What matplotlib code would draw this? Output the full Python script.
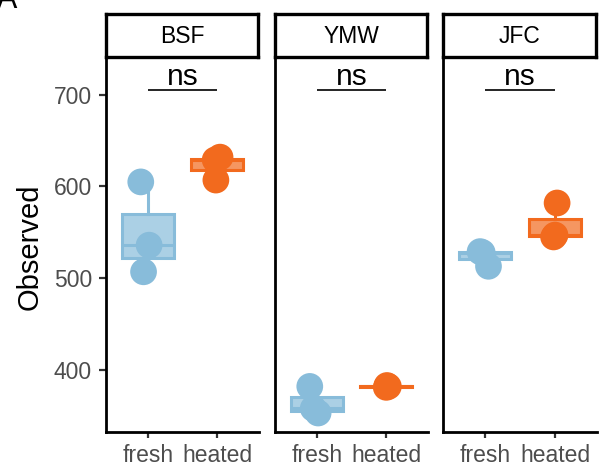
import matplotlib
matplotlib.use("Agg")
import matplotlib.pyplot as plt
from matplotlib.colors import to_rgba

plt.rcParams['font.family'] = ['Liberation Sans', 'DejaVu Sans']

# Observed richness per site and treatment
sites = ["BSF", "YMW", "JFC"]
conditions = ["fresh", "heated"]

bsf_fresh = [605, 536, 507]
bsf_heated = [632, 629, 607]
ymw_fresh = [382, 353, 358]
ymw_heated = [382, 381, 383]
jfc_fresh = [529, 513, 528]
jfc_heated = [582, 545, 547]

# horizontal jitter applied to the points
bsf_fresh_jit = [-0.10, 0.02, -0.06]
bsf_heated_jit = [0.04, -0.03, -0.02]
ymw_fresh_jit = [-0.10, 0.02, -0.05]
ymw_heated_jit = [0.03, 0.00, 0.01]
jfc_fresh_jit = [-0.07, 0.05, -0.04]
jfc_heated_jit = [0.03, -0.02, 0.00]

p_labels = ["ns", "ns", "ns"]

y_ticks = [400, 500, 600, 700]

site_values = {
    "BSF": (bsf_fresh, bsf_heated),
    "YMW": (ymw_fresh, ymw_heated),
    "JFC": (jfc_fresh, jfc_heated),
}
site_jitter = {
    "BSF": (bsf_fresh_jit, bsf_heated_jit),
    "YMW": (ymw_fresh_jit, ymw_heated_jit),
    "JFC": (jfc_fresh_jit, jfc_heated_jit),
}

colors = ["#88BCDA", "#F26A1E"]

W, H = 601, 470
fig = plt.figure(figsize=(W / 100, H / 100), dpi=100)

panel_left = [106, 275, 443]
panel_width = [153, 153, 154]
panel_top, panel_bottom = 58, 432
strip_top, strip_bottom = 14, 57

tick_color = "#4D4D4D"

for i, site in enumerate(sites):
    l = panel_left[i]
    w = panel_width[i]
    ax = fig.add_axes([l / W, (H - panel_bottom) / H, w / W,
                       (panel_bottom - panel_top) / H])
    fresh, heated = site_values[site]
    jf, jh = site_jitter[site]

    for k, (vals, jit) in enumerate(((fresh, jf), (heated, jh))):
        xs = [k + 1 + j for j in jit]
        ax.scatter(xs, vals, s=370, color=colors[k], edgecolors="none",
                   zorder=2)
        bp = ax.boxplot([vals], positions=[k + 1], widths=0.75,
                        patch_artist=True, showfliers=False, showcaps=False,
                        whis=1.5, manage_ticks=False)
        for b in bp["boxes"]:
            b.set_facecolor(to_rgba(colors[k], 0.7))
            b.set_edgecolor(colors[k])
            b.set_linewidth(2.2)
            b.set_zorder(3)
        for m in bp["medians"]:
            m.set_color(colors[k])
            m.set_linewidth(2.2)
            m.set_zorder(3)
        for wl in bp["whiskers"]:
            wl.set_color(colors[k])
            wl.set_linewidth(2.2)
            wl.set_zorder(1)

    # significance bracket
    ax.plot([1, 2], [705, 705], color="black", lw=1.2, zorder=4,
            solid_capstyle="butt")
    ax.text(1.5, 710.5, p_labels[i], ha="center", va="baseline",
            fontsize=21.5, color="black")

    ax.set_xlim(0.4, 2.6)
    ax.set_ylim(332.3, 740.1)
    ax.set_xticks([1, 2])
    ax.set_xticklabels(conditions, fontsize=16.5, color=tick_color)
    ax.tick_params(axis="x", length=4.5, width=1.6, color="#333333", pad=4)
    for s in ("top", "right"):
        ax.spines[s].set_visible(False)
    for s in ("left", "bottom"):
        ax.spines[s].set_linewidth(2.0)
        ax.spines[s].set_color("black")
    if i == 0:
        ax.set_yticks(y_ticks)
        ax.set_yticklabels([str(v) for v in y_ticks], fontsize=16.5,
                           color=tick_color)
        ax.tick_params(axis="y", length=5, width=1.6, color="#333333", pad=5)
    else:
        ax.set_yticks([])

    # facet strip
    sax = fig.add_axes([l / W, (H - strip_bottom) / H, (w - 1) / W,
                        (strip_bottom - strip_top) / H])
    sax.set_xticks([])
    sax.set_yticks([])
    for s in sax.spines.values():
        s.set_linewidth(2.4)
        s.set_color("black")
    sax.text(0.5, 0.47, site, ha="center", va="center", fontsize=16.5,
             color="black", transform=sax.transAxes)

fig.text(30 / W, 1 - 247 / H, "Observed", rotation=90, ha="center",
         va="center", fontsize=21, color="black")
fig.text(-3 / W, 1 - 8 / H, "A", ha="left", va="baseline", fontsize=22,
         color="black")

fig.savefig("out.png", dpi=100)
